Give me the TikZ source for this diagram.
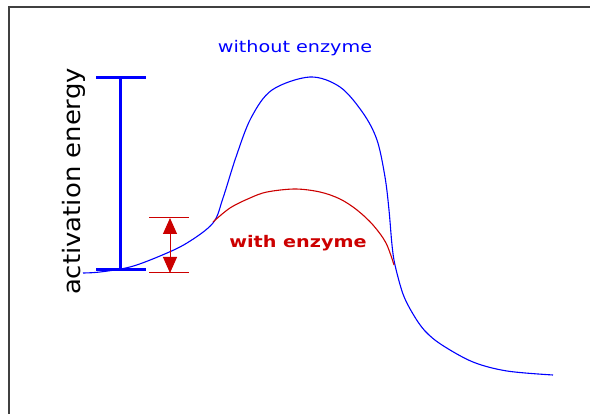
\documentclass[tikz,border=0pt]{standalone}
\usepackage{fontspec}
\newfontfamily\labelfont[FakeStretch=1.2]{DejaVu Sans}
\newfontfamily\axisfont[FakeStretch=1.08]{DejaVu Sans}
\usetikzlibrary{arrows.meta, positioning}
\definecolor{curveblue}{RGB}{0,0,255}
\definecolor{curvered}{RGB}{204,0,0}
\tikzset{
    frame/.style={draw=black!75, line width=1.6pt},
    uncatalysed/.style={curveblue, line width=1.1pt},
    catalysed/.style={curvered, line width=1.1pt},
    bar/.style={curveblue, line width=3pt},
    gapline/.style={curvered, line width=1pt},
    gaparrow/.style={curvered, line width=1pt, {Triangle[length=16pt,width=14pt]}-{Triangle[length=16pt,width=14pt]}},
    caption/.style={font=\labelfont\fontsize{16}{18}\selectfont, inner sep=0pt, anchor=base}
}

\begin{document}
\begin{tikzpicture}[x=1pt, y=-1pt]
    \useasboundingbox (0,0) rectangle (590,414);
    % frame, only top and left edges are visible
    \draw[frame] (590,7) -- (9,7) -- (9,414);

    % reaction without enzyme
    \draw[uncatalysed] plot[smooth, tension=0.55] coordinates {
        (83,273) (100,272) (130,267) (160,256) (187,243) (213,223)
        (223,198) (236,157) (251,118) (272,90)
        (310,77) (340,87) (363,113) (377,140) (385,177) (389,210)
        (392,245) (395,265) (403,294) (413,314) (425,331) (442,345)
        (473,362) (507,371) (553,375)};

    % reaction with enzyme
    \draw[catalysed] plot[smooth, tension=0.55] coordinates {
        (213,222) (230,208) (250,198) (267,192) (295,189) (320,192)
        (340,199) (357,210) (373,225) (386,243) (394,265)};

    % activation energy without enzyme
    \coordinate (bartop) at (120,78);
    \coordinate (barbot) at (120,270);
    \draw[bar] ([xshift=-24pt]bartop) -- ([xshift=26pt]bartop);
    \draw[bar] ([xshift=-24pt]barbot) -- ([xshift=26pt]barbot);
    \draw[bar] (bartop) -- (barbot);

    % activation energy with enzyme
    \coordinate (gaptop) at (170,218);
    \coordinate (gapbot) at (170,273);
    \draw[gapline] ([xshift=-21pt]gaptop) -- ([xshift=19pt]gaptop);
    \draw[gapline] ([xshift=-21pt]gapbot) -- ([xshift=19pt]gapbot);
    \draw[gaparrow] (gaptop) -- (gapbot);

    \node[caption, text=curveblue] (without) at (295,53) {without enzyme};
    \node[caption, text=curvered, font=\labelfont\bfseries\fontsize{16}{18}\selectfont] (with) at (298,248) {with enzyme};
    \node[inner sep=0pt, anchor=base, rotate=90, font=\axisfont\fontsize{24}{26}\selectfont] (axis) at (80,181.5) {activation energy};
\end{tikzpicture}
\end{document}
